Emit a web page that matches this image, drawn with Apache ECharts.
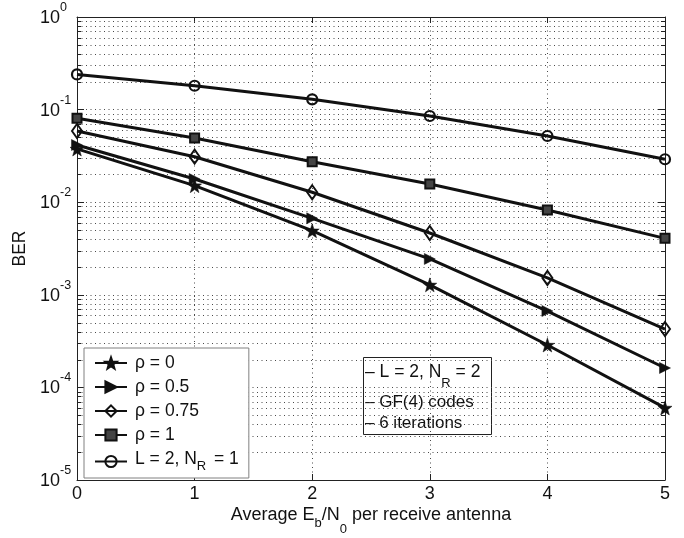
<!DOCTYPE html>
<html><head><meta charset="utf-8">
<script src="https://cdn.jsdelivr.net/npm/echarts/dist/echarts.min.js"></script>
<style>html,body{margin:0;padding:0;background:#fff}#c{width:684px;height:538px}</style>
</head><body><div id="c"></div>
<script>
// ---- data ----
const ebn0 = [0, 1, 2, 3, 4, 5];
const berRho0   = [0.0376, 0.0151, 0.00492, 0.00128, 0.000287, 0.0000600];
const berRho05  = [0.0415, 0.0178, 0.0067, 0.00244, 0.000668, 0.000162];
const berRho075 = [0.0587, 0.0310, 0.0128, 0.00465, 0.00152, 0.000427];
const berRho1   = [0.0805, 0.0493, 0.0274, 0.0157, 0.00824, 0.00407];
const berL2NR1  = [0.240, 0.181, 0.129, 0.0853, 0.0519, 0.0291];
const seriesNames = ['ρ = 0', 'ρ = 0.5', 'ρ = 0.75', 'ρ = 1', 'L = 2, NR = 1'];
const xTickLabels = ['0', '1', '2', '3', '4', '5'];
const yDecadeExps = [0, -1, -2, -3, -4, -5];
const minorMultipliers = [2, 3, 4, 5, 6, 7, 8, 9];
const noteLines = ['– L = 2, N|R| = 2', '– GF(4) codes', '– 6 iterations'];

const FF = '"Liberation Sans", Arial, Helvetica, sans-serif';
const INK = '#111';
const GRIDC = '#4a4a4a';
const DOTS = [1, 3.5];

const eMin = Math.min(...yDecadeExps), eMax = Math.max(...yDecadeExps);
const yMin = Math.pow(10, eMin);
const yMax = Math.pow(10, eMax);
const minorVals = [];
for (let e = eMin; e < eMax; e++) {
  minorMultipliers.forEach(m => minorVals.push([0, m * Math.pow(10, e)]));
}

const starPath = 'path://M0,-10L2.35,-3.24L9.51,-3.09L3.8,1.24L5.88,8.09L0,4.2L-5.88,8.09L-3.8,1.24L-9.51,-3.09L-2.35,-3.24Z';

function pts(arr) { return ebn0.map((x, i) => [x, arr[i]]); }
function lineSeries(name, arr, symbol, size, itemStyle, rot) {
  return {
    name, type: 'line', data: pts(arr), symbol, symbolSize: size, symbolRotate: rot || 0,
    showAllSymbol: true, z: 3,
    lineStyle: { color: INK, width: 3 },
    itemStyle: itemStyle,
    emphasis: { disabled: true }
  };
}

const chart = echarts.init(document.getElementById('c'), null, { renderer: 'canvas' });

function renderMinor(params, api) {
  const cs = params.coordSys;
  const y = Math.round(api.coord([0, api.value(1)])[1]) + 0.5;
  const x0 = cs.x, x1 = cs.x + cs.width;
  return {
    type: 'group', children: [
      { type: 'line', shape: { x1: x0, y1: y, x2: x1, y2: y }, style: { stroke: GRIDC, lineWidth: 1, lineDash: DOTS } },
      { type: 'line', shape: { x1: x0, y1: y, x2: x0 + 4, y2: y }, style: { stroke: '#222', lineWidth: 1 } },
      { type: 'line', shape: { x1: x1 - 4, y1: y, x2: x1, y2: y }, style: { stroke: '#222', lineWidth: 1 } }
    ]
  };
}

const axisLineStyle = { show: true, onZero: false, lineStyle: { color: '#222', width: 1 } };

function noteRich(line) {
  const parts = line.split('|');
  if (parts.length === 3) return '{m|' + parts[0] + '}{s|' + parts[1] + '}{m|' + parts[2] + '}';
  return '{m|' + line + '}';
}

const option = {
  animation: false,
  backgroundColor: '#fff',
  grid: { left: 77, right: 19, top: 17, bottom: 58, containLabel: false, outerBoundsMode: 'none' },
  xAxis: [{
    type: 'value', min: 0, max: 5, interval: 1, position: 'bottom',
    axisLine: axisLineStyle,
    axisTick: { show: true, inside: true, length: 6, lineStyle: { color: '#222' } },
    axisLabel: { fontSize: 18, color: INK, fontFamily: FF, margin: 5,
      formatter: v => xTickLabels[Math.round(v)] },
    splitLine: { show: true, lineStyle: { color: GRIDC, type: DOTS, width: 1 } }
  }, {
    type: 'value', min: 0, max: 5, interval: 1, position: 'top',
    axisLine: axisLineStyle,
    axisTick: { show: true, inside: true, length: 6, lineStyle: { color: '#222' } },
    axisLabel: { show: false }, splitLine: { show: false }
  }],
  yAxis: [{
    type: 'log', logBase: 10, min: yMin, max: yMax, position: 'left',
    name: 'BER', nameLocation: 'middle', nameGap: 47, nameRotate: 90,
    nameTextStyle: { fontSize: 17.5, color: INK, fontFamily: FF },
    axisLine: axisLineStyle,
    axisTick: { show: true, inside: true, length: 7, lineStyle: { color: '#222' } },
    axisLabel: {
      align: 'left', margin: 37, padding: [0, 0, 6, 0],
      formatter: v => '{b|10}{s|' + Math.round(Math.log10(v)) + '}',
      rich: {
        b: { fontSize: 18, color: INK, fontFamily: FF, verticalAlign: 'bottom', lineHeight: 26 },
        s: { fontSize: 12.5, color: INK, fontFamily: FF, verticalAlign: 'top' }
      }
    },
    splitLine: { show: true, lineStyle: { color: GRIDC, type: DOTS, width: 1 } },
    minorTick: { show: false }, minorSplitLine: { show: false }
  }, {
    type: 'log', logBase: 10, min: yMin, max: yMax, position: 'right',
    axisLine: axisLineStyle,
    axisTick: { show: true, inside: true, length: 7, lineStyle: { color: '#222' } },
    axisLabel: { show: false }, splitLine: { show: false }
  }],
  legend: {
    orient: 'vertical', left: 84, top: 348,
    data: seriesNames,
    itemWidth: 32, itemHeight: 14, itemGap: 6,
    padding: [6, 10, 5, 10],
    backgroundColor: '#fff', borderColor: '#808080', borderWidth: 1, borderRadius: 0,
    selectedMode: false,
    formatter: name => {
      if (name.indexOf('NR') >= 0) return '{a|L = 2, N}{s|R}{a| = 1}';
      return '{a|' + name + '}';
    },
    textStyle: {
      color: INK, fontFamily: FF, fontSize: 17.5,
      rich: {
        a: { fontSize: 17.5, color: INK, fontFamily: FF, verticalAlign: 'top', padding: [0, 0, 0, 3] },
        s: { fontSize: 13, color: INK, fontFamily: FF, verticalAlign: 'bottom', lineHeight: 23 }
      }
    }
  },
  graphic: [
    {
      type: 'group', z: 100,
      children: [
        { type: 'rect', shape: { x: 363.5, y: 357.5, width: 128, height: 77 },
          style: { fill: '#fff', stroke: '#222', lineWidth: 1 } },
        { type: 'text', x: 365, y: 363.5, style: {
            text: noteRich(noteLines[0]), verticalAlign: 'top', align: 'left',
            rich: {
              m: { fontSize: 17.5, fill: INK, fontFamily: FF, verticalAlign: 'top' },
              s: { fontSize: 13, fill: INK, fontFamily: FF, verticalAlign: 'bottom', lineHeight: 26.5 }
            } } },
        { type: 'text', x: 365, y: 402, style: { text: noteLines[1], fontSize: 17, fill: INK, fontFamily: FF, verticalAlign: 'middle', align: 'left' } },
        { type: 'text', x: 365, y: 423, style: { text: noteLines[2], fontSize: 17, fill: INK, fontFamily: FF, verticalAlign: 'middle', align: 'left' } }
      ]
    },
    {
      type: 'text', z: 100, x: 371, y: 506,
      style: {
        text: '{m|Average E}{b|b}{m|/N}{z|0}{m| per receive antenna}',
        align: 'center', verticalAlign: 'top',
        rich: {
          m: { fontSize: 18, fill: INK, fontFamily: FF, verticalAlign: 'top' },
          b: { fontSize: 13, fill: INK, fontFamily: FF, verticalAlign: 'bottom', padding: [0, 0, 6, 0] },
          z: { fontSize: 13, fill: INK, fontFamily: FF, verticalAlign: 'bottom', lineHeight: 30 }
        }
      }
    }
  ],
  series: [
    { type: 'custom', name: 'minorGrid', coordinateSystem: 'cartesian2d', xAxisIndex: 0, yAxisIndex: 0,
      data: minorVals, encode: { x: 0, y: 1 }, renderItem: renderMinor, silent: true, z: 1, clip: false },
    lineSeries(seriesNames[0], berRho0, starPath, 14, { color: INK, borderColor: INK, borderWidth: 0.5 }),
    lineSeries(seriesNames[1], berRho05, 'triangle', [11, 11], { color: INK, borderColor: INK, borderWidth: 0.5 }, -90),
    lineSeries(seriesNames[2], berRho075, 'diamond', [10, 14], { color: 'rgba(255,255,255,0)', borderColor: INK, borderWidth: 2 }),
    lineSeries(seriesNames[3], berRho1, 'rect', 9, { color: '#444', borderColor: INK, borderWidth: 2 }),
    lineSeries(seriesNames[4], berL2NR1, 'circle', 10, { color: 'rgba(255,255,255,0)', borderColor: INK, borderWidth: 2.2 })
  ]
};
chart.setOption(option);
</script></body></html>
